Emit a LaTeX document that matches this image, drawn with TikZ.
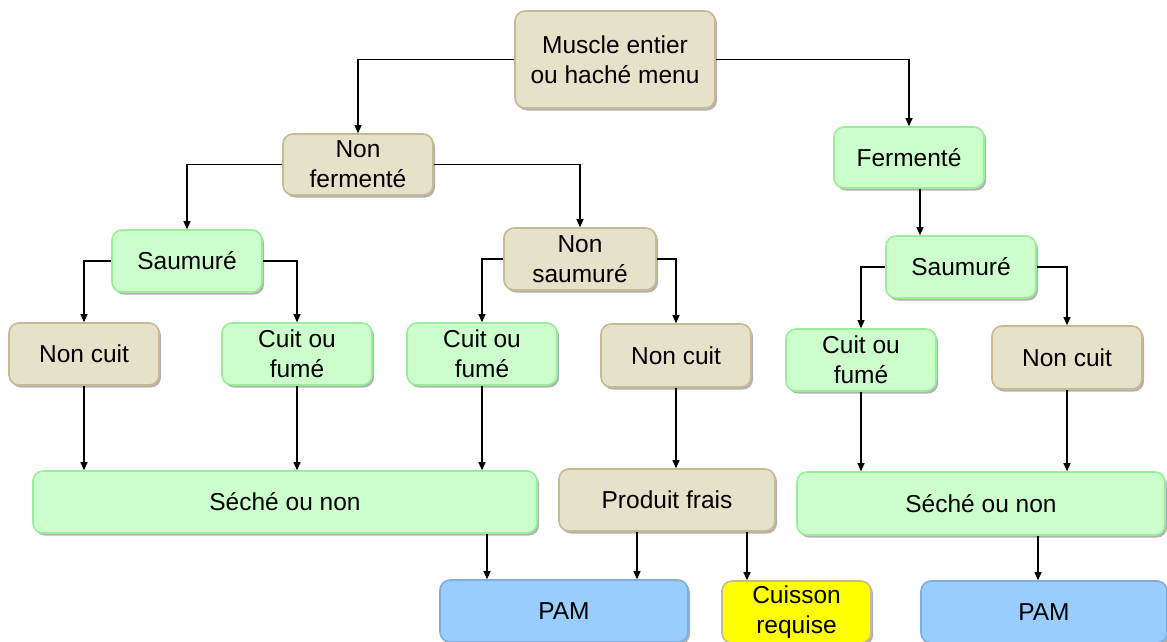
\documentclass[tikz,border=0pt]{standalone}
\usepackage{fontspec}
\setmainfont{Liberation Sans}
\usetikzlibrary{arrows.meta,shadows}
\definecolor{beigefill}{HTML}{E6E1C9}
\definecolor{beigeline}{HTML}{C8B894}
\definecolor{greenfill}{HTML}{CCFFCC}
\definecolor{greenline}{HTML}{99EE99}
\definecolor{bluefill}{HTML}{99CCFF}
\definecolor{blueline}{HTML}{80AEDC}
\definecolor{yellowfill}{HTML}{FFFF00}
\begin{document}
\begin{tikzpicture}[x=1pt,y=-1pt,
  box/.style={rounded corners=10pt,line width=1.6pt,align=center,
    font=\fontsize{24.5}{30}\selectfont,inner sep=0pt,
    drop shadow={shadow xshift=2pt,shadow yshift=-2.5pt,opacity=0.3,fill=black}},
  beige/.style={box,draw=beigeline,fill=beigefill},
  green/.style={box,draw=greenline,fill=greenfill},
  blue/.style={box,draw=blueline,fill=bluefill},
  yellow/.style={box,draw=beigeline,fill=yellowfill},
  arr/.style={line width=1.1pt,-{Triangle[length=8pt,width=7pt]}}]
\useasboundingbox (0,0) rectangle (1167,641);
\clip (0,0) rectangle (1167,641);
\node[beige,minimum width=200pt,minimum height=97pt] (m) at (615,59.5) {Muscle entier\\ou haché menu};
\node[beige,minimum width=150pt,minimum height=61pt] (nf) at (358,164.5) {Non\\fermenté};
\node[green,minimum width=150pt,minimum height=61pt] (f) at (909,157.5) {Fermenté};
\node[green,minimum width=150pt,minimum height=62pt] (s1) at (187,261) {Saumuré};
\node[beige,minimum width=152pt,minimum height=62pt] (ns) at (580,259) {Non\\saumuré};
\node[green,minimum width=150pt,minimum height=62pt] (s2) at (961,267) {Saumuré};
\node[beige,minimum width=150pt,minimum height=62pt] (nc1) at (84,354) {Non cuit};
\node[green,minimum width=150pt,minimum height=62pt] (cf1) at (297,354) {Cuit ou\\fumé};
\node[green,minimum width=150pt,minimum height=62pt] (cf2) at (482,354) {Cuit ou\\fumé};
\node[beige,minimum width=150pt,minimum height=63pt] (nc2) at (676,355.5) {Non cuit};
\node[green,minimum width=150pt,minimum height=62pt] (cf3) at (861,360) {Cuit ou\\fumé};
\node[beige,minimum width=150pt,minimum height=63pt] (nc3) at (1067,357.5) {Non cuit};
\node[green,minimum width=504pt,minimum height=62pt] (sn1) at (285,502) {Séché ou non};
\node[beige,minimum width=216pt,minimum height=62pt] (pf) at (667,500) {Produit frais};
\node[green,minimum width=368pt,minimum height=63pt] (sn2) at (981,503.5) {Séché ou non};
\node[blue,minimum width=248pt,minimum height=62pt] (pam1) at (564,611) {PAM};
\node[yellow,minimum width=149pt,minimum height=62pt] (cq) at (796.5,612) {Cuisson\\requise};
\node[blue,minimum width=246pt,minimum height=62pt] (pam2) at (1044,612) {PAM};
% connectors
\draw[arr] (m.west) -| (nf.north);
\draw[arr] (m.east) -| (f.north);
\draw[arr] (nf.west) -| (s1.north);
\draw[arr] (nf.east) -| (ns.north);
\draw[arr] (s1.west) -| (nc1.north);
\draw[arr] (s1.east) -| (cf1.north);
\draw[arr] (ns.west) -| (cf2.north);
\draw[arr] (ns.east) -| (nc2.north);
\path ([xshift=11pt]f.south) coordinate (fs);
\draw[arr] (fs) -- (fs |- s2.north);
\draw[arr] (s2.west) -| (cf3.north);
\draw[arr] (s2.east) -| (nc3.north);
\draw[arr] (nc1.south) -- (nc1.south |- sn1.north);
\draw[arr] (cf1.south) -- (cf1.south |- sn1.north);
\draw[arr] (cf2.south) -- (cf2.south |- sn1.north);
\draw[arr] (nc2.south) -- (nc2.south |- pf.north);
\draw[arr] (cf3.south) -- (cf3.south |- sn2.north);
\draw[arr] (nc3.south) -- (nc3.south |- sn2.north);
\path ([xshift=202pt]sn1.south) coordinate (a1);
\draw[arr] (a1) -- (a1 |- pam1.north);
\path ([xshift=-30pt]pf.south) coordinate (a2);
\draw[arr] (a2) -- (a2 |- pam1.north);
\path ([xshift=80pt]pf.south) coordinate (a3);
\draw[arr] (a3) -- (a3 |- cq.north);
\path ([xshift=57pt]sn2.south) coordinate (a4);
\draw[arr] (a4) -- (a4 |- pam2.north);
\end{tikzpicture}
\end{document}
